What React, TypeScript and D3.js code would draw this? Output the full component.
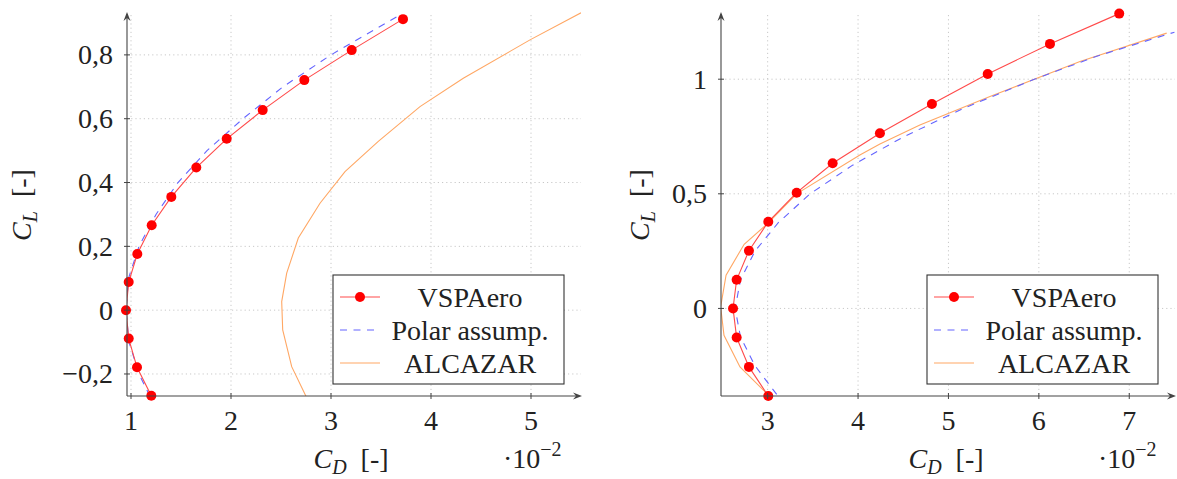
import React from "react";
import * as d3 from "d3";

// ---------- Left panel data ----------
const leftVspCD = [3.72, 3.207, 2.733, 2.317, 1.957, 1.653, 1.403, 1.207, 1.063, 0.977, 0.95, 0.977, 1.06, 1.203];
const leftVspCL = [0.912, 0.815, 0.721, 0.627, 0.537, 0.447, 0.355, 0.266, 0.176, 0.088, 0, -0.089, -0.179, -0.268];
const leftPolarCD = [1.19, 1.08, 0.98, 0.95, 0.975, 1.08, 1.25, 1.47, 1.76, 2.12, 2.52, 3.0, 3.69];
const leftPolarCL = [-0.27, -0.2, -0.1, 0, 0.1, 0.2, 0.3, 0.4, 0.5, 0.6, 0.7, 0.8, 0.925];
const leftAlcCD = [2.75, 2.607, 2.517, 2.507, 2.557, 2.673, 2.89, 3.14, 3.473, 3.89, 4.323, 4.79, 4.99, 5.5];
const leftAlcCL = [-0.27, -0.177, -0.062, 0.027, 0.116, 0.226, 0.335, 0.434, 0.529, 0.638, 0.727, 0.811, 0.847, 0.932];
const leftXTicks = [1, 2, 3, 4, 5];
const leftYTicks = [-0.2, 0, 0.2, 0.4, 0.6, 0.8];

// ---------- Right panel data ----------
const rightVspCD = [6.889, 6.123, 5.434, 4.817, 4.242, 3.719, 3.321, 3.007, 2.793, 2.657, 2.617, 2.657, 2.793, 3.007];
const rightVspCL = [1.286, 1.154, 1.023, 0.892, 0.764, 0.633, 0.505, 0.378, 0.252, 0.125, 0, -0.127, -0.255, -0.382];
const rightPolarCD = [3.1, 2.86, 2.7, 2.64, 2.7, 2.86, 3.12, 3.47, 3.94, 4.51, 5.18, 5.95, 6.64, 7.5];
const rightPolarCL = [-0.375, -0.25, -0.125, 0, 0.125, 0.25, 0.375, 0.5, 0.625, 0.75, 0.875, 1.0, 1.1, 1.205];
const rightAlcCD = [2.99, 2.694, 2.517, 2.48, 2.54, 2.74, 3.0, 3.32, 4.02, 4.242, 4.684, 5.459, 6.455, 7.414];
const rightAlcCL = [-0.371, -0.255, -0.117, 0.007, 0.145, 0.28, 0.37, 0.5, 0.669, 0.717, 0.8, 0.924, 1.077, 1.201];
const rightXTicks = [3, 4, 5, 6, 7];
const rightYTicks = [0, 0.5, 1];

const legendLabels = ["VSPAero", "Polar assump.", "ALCAZAR"];

const FONT = "'Liberation Serif', 'DejaVu Serif', serif";
const TEXT = "#222";
const AXIS = "#444";
const RED = "#ff0000";
const RED_LINE = "#ff4a4a";
const BLUE = "#6464ff";
const ORANGE = "#ffa764";

const locale = d3.formatLocale({ decimal: ",", thousands: ".", grouping: [3], currency: ["", ""], minus: "\u2212" });
const fmt = locale.format(".1~f");

type PanelProps = {
  id: string;
  x0: number; x1: number; y0: number; y1: number;
  xDomain: [number, number]; yDomain: [number, number];
  xTicks: number[]; yTicks: number[];
  vsp: [number[], number[]]; polar: [number[], number[]]; alc: [number[], number[]];
  legendX: number;
  yLabelX: number;
  xLabelX: number;
  expX: number;
};

function zip(a: number[], b: number[]): [number, number][] {
  return a.map((v, i) => [v, b[i]]);
}

function Panel(p: PanelProps) {
  const x = d3.scaleLinear().domain(p.xDomain).range([p.x0, p.x1]);
  const y = d3.scaleLinear().domain(p.yDomain).range([p.y1, p.y0]);
  const line = d3.line<[number, number]>().x((d) => x(d[0])).y((d) => y(d[1]));
  const vsp = zip(p.vsp[0], p.vsp[1]);
  const polar = zip(p.polar[0], p.polar[1]);
  const alc = zip(p.alc[0], p.alc[1]);
  const axX = p.x0;
  const axY = p.y1;
  const lw = 231;
  const lh = 109;
  const ly = 275;
  const rows = [ly + 22, ly + 55, ly + 88];
  return (
    <g>
      <defs>
        <clipPath id={`clip-${p.id}`}>
          <rect x={p.x0} y={p.y0 - 3} width={p.x1 - p.x0} height={p.y1 - p.y0 + 3} />
        </clipPath>
      </defs>
      {/* grid */}
      {p.xTicks.map((t) => (
        <line key={`gx${t}`} x1={x(t)} x2={x(t)} y1={p.y0} y2={p.y1} stroke="#c8c8c8" strokeWidth={1} strokeDasharray="1.2,3" />
      ))}
      {p.yTicks.map((t) => (
        <line key={`gy${t}`} x1={p.x0} x2={p.x1} y1={y(t)} y2={y(t)} stroke="#c8c8c8" strokeWidth={1} strokeDasharray="1.2,3" />
      ))}
      {/* series */}
      <g clipPath={`url(#clip-${p.id})`}>
        <path d={line(alc) || ""} fill="none" stroke={ORANGE} strokeWidth={1.1} />
        <path d={line(polar) || ""} fill="none" stroke={BLUE} strokeWidth={1.1} strokeDasharray="7,6.5" />
        <path d={line(vsp) || ""} fill="none" stroke={RED_LINE} strokeWidth={1.1} />
      </g>
      {vsp.map((d, i) => (
        <circle key={`m${i}`} cx={x(d[0])} cy={y(d[1])} r={5} fill={RED} />
      ))}
      {/* axes */}
      <line x1={axX} x2={axX} y1={axY} y2={p.y0 - 1} stroke={AXIS} strokeWidth={1.1} />
      <path d={`M${axX - 3.5},${p.y0 + 6} L${axX},${p.y0 - 3} L${axX + 3.5},${p.y0 + 6} L${axX},${p.y0 + 3} Z`} fill={AXIS} />
      <line x1={axX} x2={p.x1 - 2} y1={axY} y2={axY} stroke={AXIS} strokeWidth={1.1} />
      <path d={`M${p.x1 - 8},${axY - 3.5} L${p.x1 + 1},${axY} L${p.x1 - 8},${axY + 3.5} L${p.x1 - 5},${axY} Z`} fill={AXIS} />
      {/* ticks */}
      {p.xTicks.map((t) => (
        <g key={`tx${t}`}>
          <line x1={x(t)} x2={x(t)} y1={axY - 3} y2={axY + 3} stroke={AXIS} strokeWidth={1} />
          <text x={x(t)} y={430} textAnchor="middle" fontSize={28} fontFamily={FONT} fill={TEXT}>{fmt(t)}</text>
        </g>
      ))}
      {p.yTicks.map((t) => (
        <g key={`ty${t}`}>
          <line x1={axX - 3} x2={axX + 3} y1={y(t)} y2={y(t)} stroke={AXIS} strokeWidth={1} />
          <text x={axX - 14} y={y(t) + 9.5} textAnchor="end" fontSize={28} fontFamily={FONT} fill={TEXT}>{fmt(t)}</text>
        </g>
      ))}
      {/* axis labels */}
      <text transform={`translate(${p.yLabelX},205) rotate(-90)`} textAnchor="middle" fontSize={28} fontFamily={FONT} fill={TEXT}>
        <tspan fontStyle="italic">C</tspan>
        <tspan fontStyle="italic" fontSize={20} dy={6}>L</tspan>
        <tspan dy={-6}>{"\u00a0 [-]"}</tspan>
      </text>
      <text x={p.xLabelX} y={468} textAnchor="middle" fontSize={28} fontFamily={FONT} fill={TEXT}>
        <tspan fontStyle="italic">C</tspan>
        <tspan fontStyle="italic" fontSize={20} dy={6}>D</tspan>
        <tspan dy={-6}>{"\u00a0 [-]"}</tspan>
      </text>
      <text x={p.expX} y={468} fontSize={28} fontFamily={FONT} fill={TEXT}>
        <tspan>·10</tspan>
        <tspan fontSize={20} dy={-12}>{"\u22122"}</tspan>
      </text>
      {/* legend */}
      <rect x={p.legendX} y={ly} width={lw} height={lh} fill="#fff" stroke="#333" strokeWidth={1.1} />
      <line x1={p.legendX + 7} x2={p.legendX + 47} y1={rows[0]} y2={rows[0]} stroke={RED_LINE} strokeWidth={1.1} />
      <circle cx={p.legendX + 27} cy={rows[0]} r={5} fill={RED} />
      <line x1={p.legendX + 7} x2={p.legendX + 47} y1={rows[1]} y2={rows[1]} stroke={BLUE} strokeWidth={1.1} strokeDasharray="7,6.5" />
      <line x1={p.legendX + 7} x2={p.legendX + 47} y1={rows[2]} y2={rows[2]} stroke={ORANGE} strokeWidth={1.1} />
      {legendLabels.map((l, i) => (
        <text key={l} x={p.legendX + 137} y={rows[i] + 10} textAnchor="middle" fontSize={28} fontFamily={FONT} fill={TEXT}>{l}</text>
      ))}
    </g>
  );
}

export default function App() {
  return (
    <svg width={1177} height={479} style={{ position: "absolute", left: 0, top: 0, background: "#fff" }}>
      <Panel
        id="l"
        x0={127} x1={581} y0={15} y1={396}
        xDomain={[0.96, 5.5]} yDomain={[-0.269, 0.925]}
        xTicks={leftXTicks} yTicks={leftYTicks}
        vsp={[leftVspCD, leftVspCL]} polar={[leftPolarCD, leftPolarCL]} alc={[leftAlcCD, leftAlcCL]}
        legendX={333}
        yLabelX={31}
        xLabelX={351}
        expX={503}
      />
      <Panel
        id="r"
        x0={721} x1={1175} y0={15} y1={396}
        xDomain={[2.484, 7.506]} yDomain={[-0.382, 1.28]}
        xTicks={rightXTicks} yTicks={rightYTicks}
        vsp={[rightVspCD, rightVspCL]} polar={[rightPolarCD, rightPolarCL]} alc={[rightAlcCD, rightAlcCL]}
        legendX={927}
        yLabelX={649}
        xLabelX={946}
        expX={1098}
      />
    </svg>
  );
}
